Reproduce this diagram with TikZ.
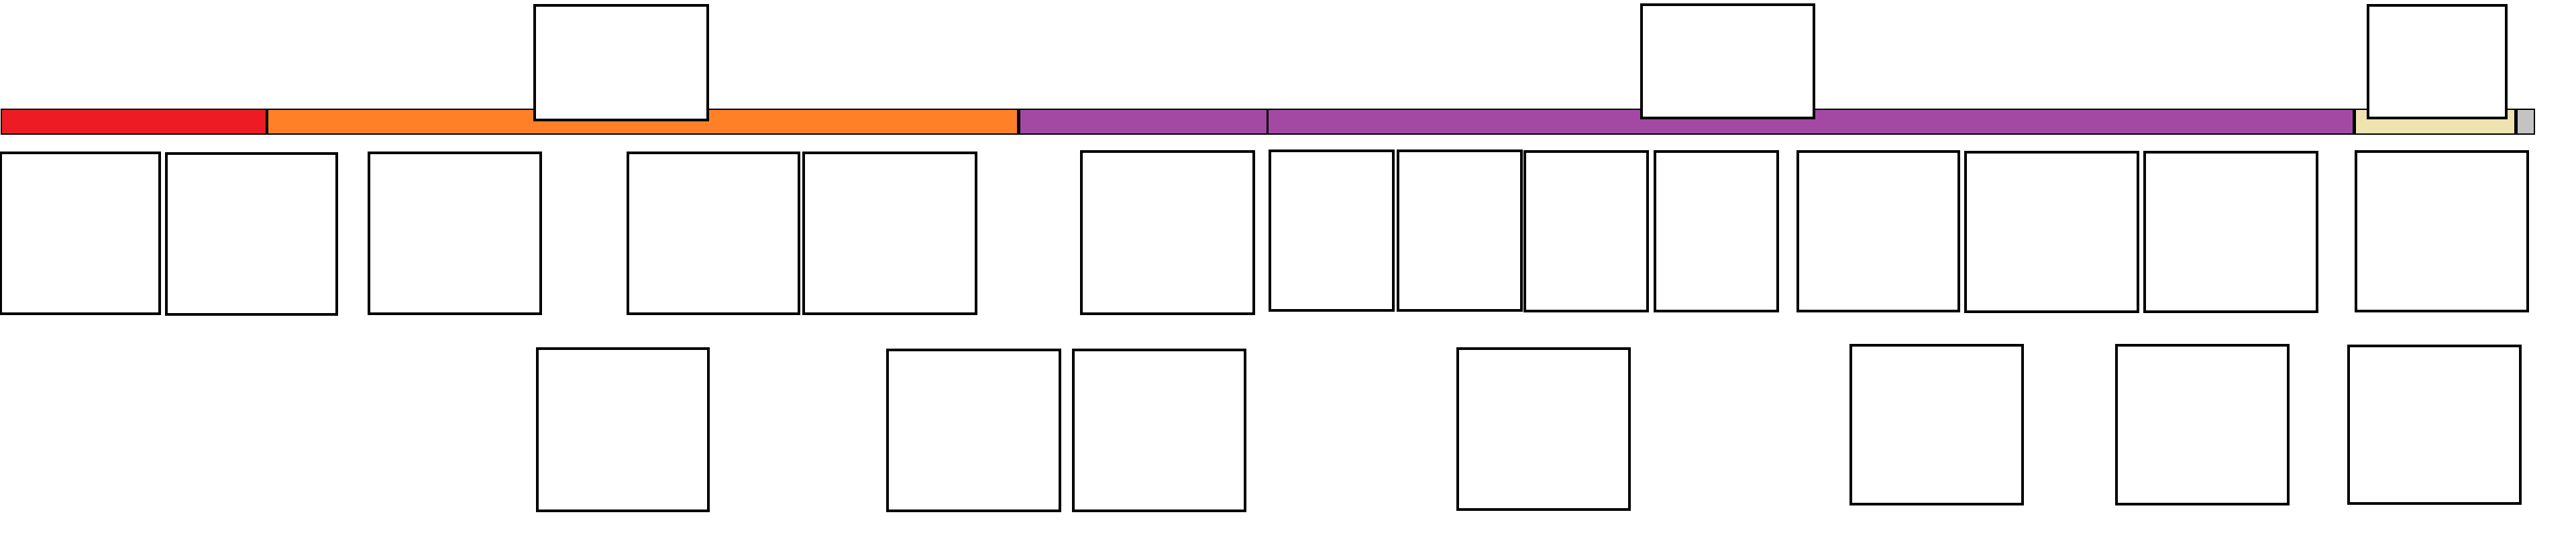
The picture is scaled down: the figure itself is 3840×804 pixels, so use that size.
\documentclass[tikz,border=0pt]{standalone}
\usepackage{tikz}
\definecolor{cRed}{HTML}{ED1C24}
\definecolor{cOrange}{HTML}{FF8027}
\definecolor{cPurple}{HTML}{A349A4}
\definecolor{cCream}{HTML}{EFE4B0}
\definecolor{cGray}{HTML}{C3C3C3}
\tikzset{
  boxst/.style={draw=black, fill=white, line width=0.9pt, inner sep=0pt, outer sep=0pt, rectangle},
  barst/.style={draw=black, line width=0.8pt, inner sep=0pt, outer sep=0pt, rectangle},
  divst/.style={fill=black, draw=none}
}
\newcommand\bx[6]{\pgfmathsetmacro\bxw{(#4-#2)*0.01}\pgfmathsetmacro\bxh{(#5-#3)*0.01}\node[#6,minimum width=\bxw cm,minimum height=\bxh cm] (#1) at ({(#2+#4)/2},{-(#3+#5)/2}) {};}
\begin{document}
\begin{tikzpicture}[x=0.01cm,y=0.01cm]
\useasboundingbox (0,0) rectangle (3840,-804);
% timeline bar
\bx{sRed}{2}{163}{398}{200}{barst,fill=cRed}
\bx{sOrange}{398}{163}{1518}{200}{barst,fill=cOrange}
\bx{sPurpleA}{1518}{163}{1889}{200}{barst,fill=cPurple}
\bx{sPurpleB}{1890}{163}{3509}{200}{barst,fill=cPurple}
\bx{sCream}{3509}{163}{3750}{200}{barst,fill=cCream}
\bx{sGray}{3750}{163}{3778}{200}{barst,fill=cGray}
\fill[divst] (396,-163) rectangle (400,-200);
\fill[divst] (1516,-163) rectangle (1521,-200);
\fill[divst] (3507,-163) rectangle (3512,-200);
\fill[divst] (3748,-163) rectangle (3753,-200);
% top boxes
\bx{t1}{797}{8}{1055}{179}{boxst}
\bx{t2}{2447}{7}{2704}{176}{boxst}
\bx{t3}{3530}{8}{3736}{176}{boxst}
% middle row
\bx{m1}{1}{228}{238}{468}{boxst}
\bx{m2}{248}{229}{502}{469}{boxst}
\bx{m3}{550}{228}{806}{468}{boxst}
\bx{m4}{936}{228}{1191}{468}{boxst}
\bx{m5}{1198}{228}{1455}{468}{boxst}
\bx{m6}{1612}{226}{1869}{468}{boxst}
\bx{m7}{1893}{225}{2077}{463}{boxst}
\bx{m8}{2084}{225}{2268}{463}{boxst}
\bx{m9}{2273}{226}{2456}{464}{boxst}
\bx{m10}{2467}{226}{2650}{464}{boxst}
\bx{m11}{2680}{226}{2920}{464}{boxst}
\bx{m12}{2930}{227}{3187}{465}{boxst}
\bx{m13}{3197}{227}{3454}{465}{boxst}
\bx{m14}{3512}{226}{3768}{464}{boxst}
% bottom row
\bx{b1}{801}{520}{1056}{762}{boxst}
\bx{b2}{1323}{522}{1580}{762}{boxst}
\bx{b3}{1600}{522}{1856}{762}{boxst}
\bx{b4}{2173}{520}{2429}{760}{boxst}
\bx{b5}{2759}{515}{3015}{752}{boxst}
\bx{b6}{3155}{515}{3411}{752}{boxst}
\bx{b7}{3501}{516}{3757}{751}{boxst}
\end{tikzpicture}
\end{document}
